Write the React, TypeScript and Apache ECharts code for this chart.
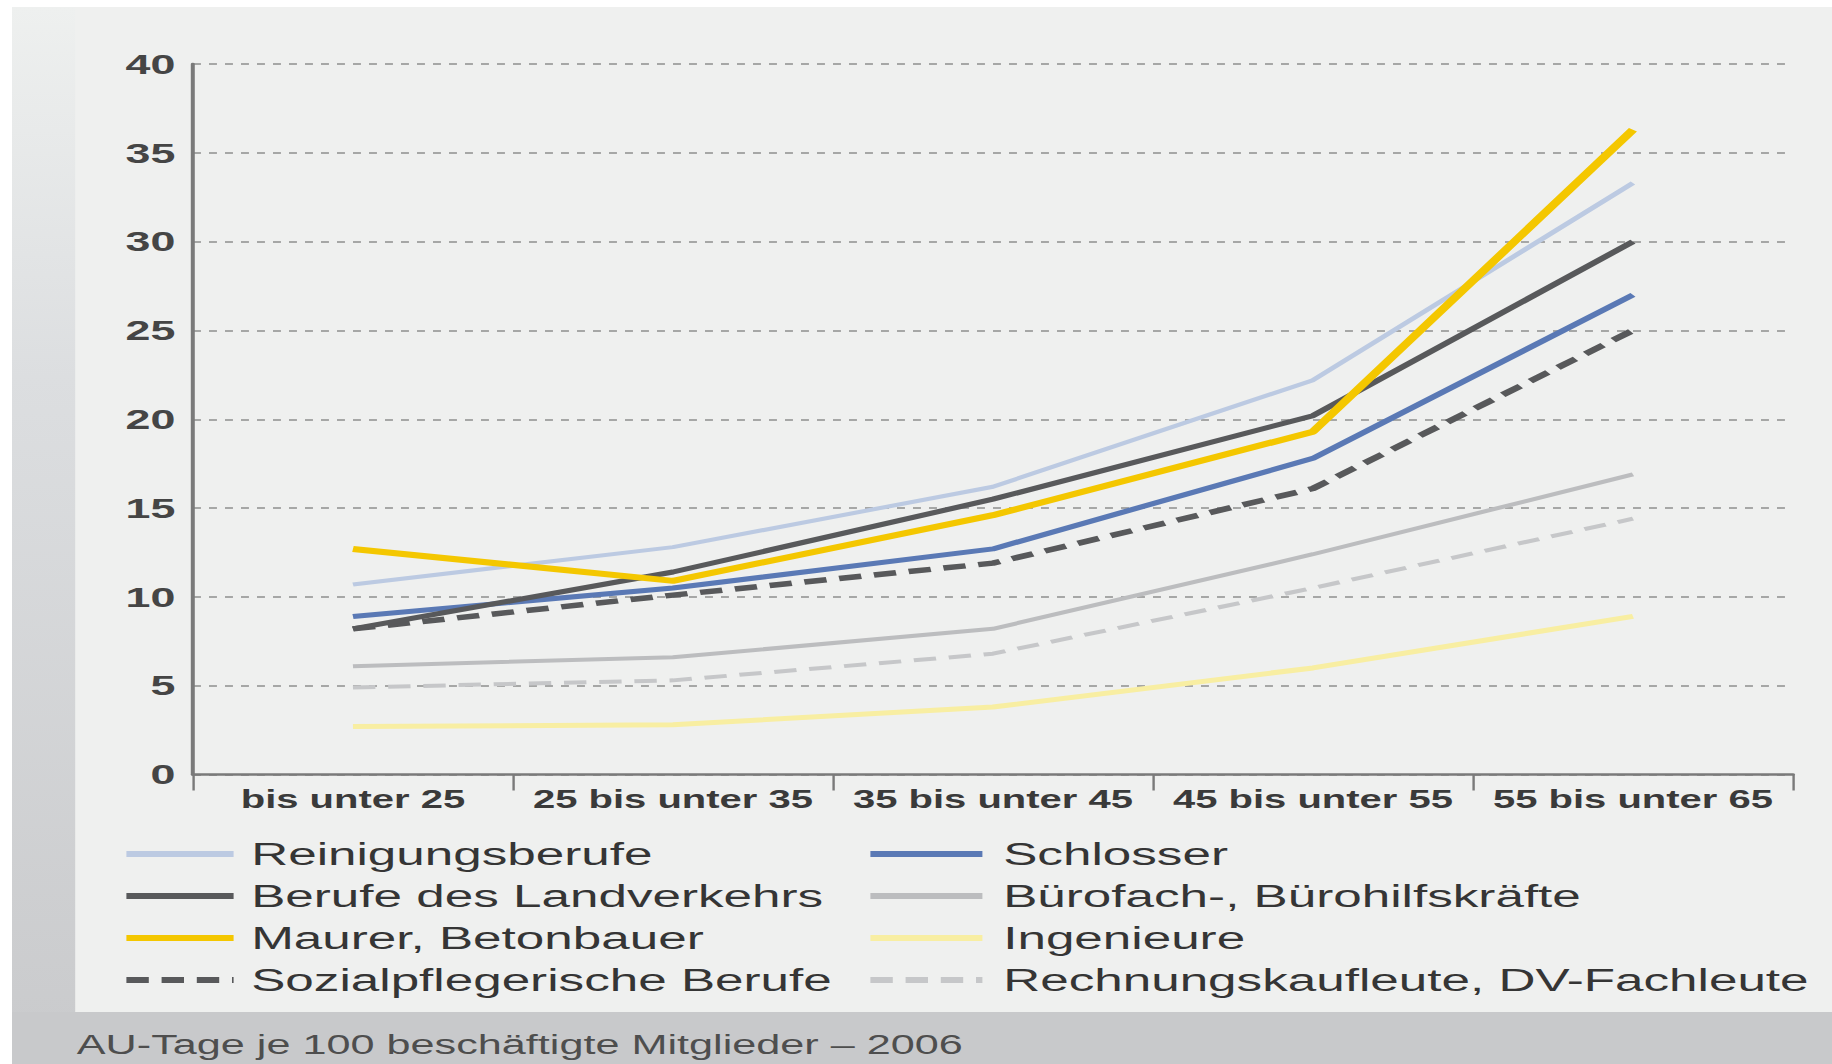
import React, { useEffect, useRef } from "react";
import * as echarts from "echarts";

const categories = ["bis unter 25", "25 bis unter 35", "35 bis unter 45", "45 bis unter 55", "55 bis unter 65"];
const yTicks = [0, 5, 10, 15, 20, 25, 30, 35, 40];

const reinigung = [10.7, 12.8, 16.2, 22.2, 33.3];
const schlosser = [8.9, 10.5, 12.7, 17.8, 27.0];
const landverkehr = [8.2, 11.4, 15.5, 20.2, 30.0];
const maurer = [12.7, 10.9, 14.6, 19.3, 36.3];
const sozial = [8.2, 10.1, 11.9, 16.1, 25.0];
const buero = [6.1, 6.6, 8.2, 12.4, 16.9];
const ingenieure = [2.7, 2.8, 3.8, 6.0, 8.9];
const rechnung = [4.9, 5.3, 6.8, 10.5, 14.4];

const caption = "AU-Tage je 100 beschäftigte Mitglieder – 2006";

const SX = 1.6;
const W = 1832 / SX;
const H = 1064;
const FONT = "'Liberation Sans', Arial, Helvetica, sans-serif";

export default function App() {
  const ref = useRef<HTMLDivElement>(null);
  useEffect(() => {
    if (!ref.current) return;
    const chart = echarts.init(ref.current, null, { renderer: "svg", width: W, height: H });
    const mk = (name: string, data: number[], color: string, width: number, dash?: number[]) => ({
      name,
      type: "line",
      data,
      symbol: "none",
      smooth: false,
      silent: true,
      lineStyle: { color, width, type: dash ? dash : "solid", cap: "butt" },
      itemStyle: { color },
      emphasis: { disabled: true },
    });
    const legendBase = {
      orient: "vertical",
      top: 837,
      padding: 0,
      itemHeight: 10,
      itemGap: 8,
      selectedMode: false,
      itemStyle: { opacity: 0, borderWidth: 0 },
      lineStyle: { width: 6 },
    };
    const legendText = (pad: number) => ({
      fontSize: 32,
      lineHeight: 34,
      color: "#353535",
      fontFamily: FONT,
      padding: [0, 0, 0, pad],
    });
    chart.setOption({
      animation: false,
      backgroundColor: "#ffffff",
      textStyle: { fontFamily: FONT },
      graphic: [
        {
          type: "rect",
          silent: true,
          z: -10,
          shape: { x: 7.5, y: 7, width: 40, height: H - 7 },
          style: {
            fill: new echarts.graphic.LinearGradient(0, 0, 0, 1, [
              { offset: 0, color: "#eef0ef" },
              { offset: 0.35, color: "#dcdee0" },
              { offset: 1, color: "#c9cacc" },
            ]),
          },
        },
        {
          type: "rect",
          silent: true,
          z: -10,
          shape: { x: 47, y: 7, width: W - 47, height: 1005 },
          style: { fill: "#eff0ef" },
        },
        {
          type: "rect",
          silent: true,
          z: -10,
          shape: { x: 7.5, y: 1012, width: W - 7.5, height: 52 },
          style: { fill: "#c8c9cb" },
        },
        {
          type: "text",
          silent: true,
          x: 48,
          y: 1045,
          style: {
            text: caption,
            fontSize: 27,
            fontFamily: FONT,
            fill: "#4e4e4e",
            verticalAlign: "middle",
            align: "left",
          },
        },
      ],
      grid: { left: 120.6, right: 24.4, top: 64, bottom: 289.5, containLabel: false, outerBoundsMode: "none" },
      xAxis: {
        type: "category",
        data: categories,
        boundaryGap: true,
        axisLine: { show: true, lineStyle: { color: "#7a7a7a", width: 2.5 } },
        axisTick: { show: true, interval: 0, length: 16, lineStyle: { color: "#7a7a7a", width: 1.5 } },
        axisLabel: { interval: 0, fontSize: 25, fontWeight: "bold", color: "#3a3a3a", margin: 12, fontFamily: FONT },
        splitLine: { show: false },
      },
      yAxis: {
        type: "value",
        min: yTicks[0],
        max: yTicks[yTicks.length - 1],
        interval: 5,
        axisLine: { show: true, lineStyle: { color: "#7a7a7a", width: 2.5 } },
        axisTick: { show: false },
        axisLabel: { fontSize: 28, fontWeight: "bold", color: "#454545", margin: 11, fontFamily: FONT },
        splitLine: { show: true, lineStyle: { color: "#8f8f8f", width: 1.5, type: [5, 5] } },
      },
      legend: [
        {
          ...legendBase,
          left: 76,
          itemWidth: 67,
          textStyle: legendText(6),
          data: ["Reinigungsberufe", "Berufe des Landverkehrs", "Maurer, Betonbauer", "Sozialpflegerische Berufe"],
        },
        {
          ...legendBase,
          left: 541,
          itemWidth: 70,
          textStyle: legendText(8),
          data: ["Schlosser", "Bürofach-, Bürohilfskräfte", "Ingenieure", "Rechnungskaufleute, DV-Fachleute"],
        },
      ],
      series: [
        mk("Ingenieure", ingenieure, "#f8eea2", 5),
        mk("Rechnungskaufleute, DV-Fachleute", rechnung, "#c6c7c9", 4, [14, 8]),
        mk("Bürofach-, Bürohilfskräfte", buero, "#bcbdbf", 4),
        mk("Reinigungsberufe", reinigung, "#bccae2", 4),
        mk("Schlosser", schlosser, "#5a79b5", 5),
        mk("Sozialpflegerische Berufe", sozial, "#58595b", 5.5, [14, 8]),
        mk("Berufe des Landverkehrs", landverkehr, "#58595b", 5),
        mk("Maurer, Betonbauer", maurer, "#f4c700", 6),
      ],
    });
    return () => chart.dispose();
  }, []);
  return (
    <div
      style={{
        position: "fixed",
        left: 0,
        top: 0,
        width: 1832,
        height: 1064,
        overflow: "hidden",
        background: "#ffffff",
      }}
    >
      <div
        ref={ref}
        style={{ width: W, height: H, transform: `scaleX(${SX})`, transformOrigin: "0 0" }}
      />
    </div>
  );
}
